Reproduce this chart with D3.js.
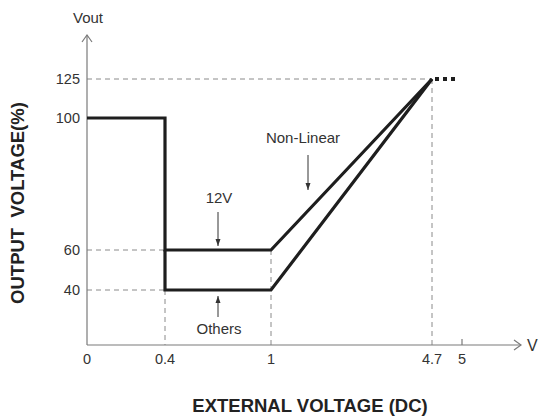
<!DOCTYPE html>
<html><head><meta charset="utf-8">
<script src="https://cdn.jsdelivr.net/npm/d3@7"></script>
<style>
body{margin:0;background:#fff;}
text{font-family:"Liberation Sans Narrow","Arial Narrow","Liberation Sans",Arial,sans-serif;white-space:pre;}
</style></head>
<body><svg id="c" width="542" height="416"></svg>
<script>
const xTicks = [0, 0.4, 1, 4.7, 5];
const yTicks = [40, 60, 100, 125];
const line12V = [[0,100],[0.4,100],[0.4,60],[1,60],[4.7,125]];
const lineOthers = [[0.4,60],[0.4,40],[1,40],[4.7,125]];
const extension = [[4.7,125],[4.97,125]];
const labels = ["12V", "Others", "Non-Linear"];

const svg = d3.select("#c");
const x = d3.scaleLinear().domain([0,0.4,1,4.7,5]).range([87,165,271,432,462]);
const y = d3.scaleLinear().domain([0,40,60,100,125]).range([345,290,250,118,79]);
const axisColor = "#7a7a7a", dashColor = "#8a8a8a", txt = "#333";

// guide dashes
const g = svg.append("g").attr("stroke",dashColor).attr("stroke-width",1).attr("stroke-dasharray","5,4").attr("fill","none");
g.append("line").attr("x1",x(0)).attr("x2",x(4.7)).attr("y1",y(125)).attr("y2",y(125));
g.append("line").attr("x1",x(0)).attr("x2",x(0.4)).attr("y1",y(60)).attr("y2",y(60));
g.append("line").attr("x1",x(0)).attr("x2",x(0.4)).attr("y1",y(40)).attr("y2",y(40));
g.append("line").attr("x1",x(0.4)).attr("x2",x(0.4)).attr("y1",y(40)).attr("y2",y(0));
g.append("line").attr("x1",x(1)).attr("x2",x(1)).attr("y1",y(60)).attr("y2",y(0));
g.append("line").attr("x1",x(4.7)).attr("x2",x(4.7)).attr("y1",y(125)).attr("y2",y(0));

// axes
const ax = svg.append("g").attr("stroke",axisColor).attr("stroke-width",1.2).attr("fill","none");
ax.append("line").attr("x1",x(0)).attr("x2",x(0)).attr("y1",y(0)).attr("y2",35);
ax.append("path").attr("d",`M${x(0)-5},42 L${x(0)},35 L${x(0)+5},42`);
ax.append("line").attr("x1",x(0)).attr("x2",521).attr("y1",y(0)).attr("y2",y(0));
ax.append("path").attr("d",`M514,${y(0)-5} L521,${y(0)} L514,${y(0)+5}`);
ax.append("line").attr("x1",x(5)).attr("x2",x(5)).attr("y1",y(0)).attr("y2",y(0)-6);

// tick labels
svg.append("g").selectAll("text").data(xTicks).join("text")
  .attr("x",d=>x(d)).attr("y",364).attr("text-anchor","middle")
  .attr("font-size",14.5).attr("fill",txt).text(d=>d);
svg.append("g").selectAll("text").data(yTicks).join("text")
  .attr("x",80).attr("y",d=>y(d)+5).attr("text-anchor","end")
  .attr("font-size",14.5).attr("fill",txt).text(d=>d);
svg.append("text").attr("x",x(0)+1).attr("y",23).attr("text-anchor","middle").attr("font-size",15).attr("fill",txt).text("Vout");
svg.append("text").attr("x",527).attr("y",y(0)+6).attr("font-size",16).attr("fill",txt).text("V");

// curves
const lg = d3.line().x(d=>x(d[0])).y(d=>y(d[1]));
svg.append("path").attr("d",lg(line12V)).attr("fill","none").attr("stroke","#1e1e1e").attr("stroke-width",3.2).attr("stroke-linejoin","miter");
svg.append("path").attr("d",lg(lineOthers)).attr("fill","none").attr("stroke","#1e1e1e").attr("stroke-width",3.2).attr("stroke-linejoin","miter");
svg.append("path").attr("d",lg(extension)).attr("fill","none").attr("stroke","#1e1e1e").attr("stroke-width",4).attr("stroke-dasharray","4,4").attr("stroke-dashoffset",-3);

// annotations
const ann = svg.append("g");
ann.append("text").attr("x",x(0.7)+1).attr("y",203).attr("text-anchor","middle").attr("font-size",15).attr("fill",txt).text(labels[0]);
ann.append("line").attr("x1",x(0.7)).attr("x2",x(0.7)).attr("y1",212).attr("y2",246).attr("stroke","#333");
ann.append("path").attr("d",`M${x(0.7)-2.5},239 L${x(0.7)},246 L${x(0.7)+2.5},239 Z`).attr("fill","#333");
ann.append("text").attr("x",x(0.7)+1).attr("y",334).attr("text-anchor","middle").attr("font-size",15).attr("fill",txt).text(labels[1]);
ann.append("line").attr("x1",x(0.7)).attr("x2",x(0.7)).attr("y1",296).attr("y2",317).attr("stroke","#333");
ann.append("path").attr("d",`M${x(0.7)-2.5},303 L${x(0.7)},296 L${x(0.7)+2.5},303 Z`).attr("fill","#333");
ann.append("text").attr("x",303).attr("y",143).attr("text-anchor","middle").attr("font-size",15).attr("fill",txt).text(labels[2]);
ann.append("line").attr("x1",308).attr("x2",308).attr("y1",155).attr("y2",190).attr("stroke","#333");
ann.append("path").attr("d",`M305.5,183 L308,190 L310.5,183 Z`).attr("fill","#333");

// titles
svg.append("text").attr("transform","translate(24,203) rotate(-90)").attr("text-anchor","middle")
  .attr("font-size",18.5).attr("font-weight","bold").attr("fill","#222").text("OUTPUT  VOLTAGE(%)");
svg.append("text").attr("x",310).attr("y",412).attr("text-anchor","middle")
  .attr("font-size",18.5).attr("font-weight","bold").attr("fill","#222").text("EXTERNAL VOLTAGE (DC)");
</script></body></html>
